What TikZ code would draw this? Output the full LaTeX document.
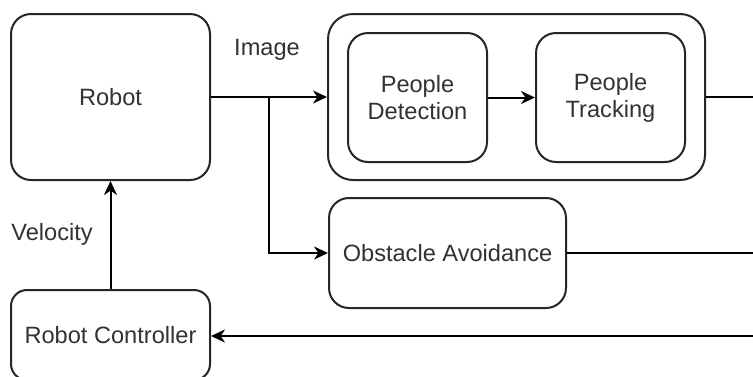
\documentclass[tikz,border=0pt]{standalone}
\usepackage{fontspec}
\setmainfont{Liberation Sans}
\usetikzlibrary{arrows.meta}
\definecolor{txt}{RGB}{50,50,50}
\tikzset{
  px/.style={x=0.5pt,y=-0.5pt},
  box/.style={draw=black!85, line width=1pt, rounded corners=#1, fill=white, inner sep=0pt, text=txt, align=center,
    font=\fontsize{11.8pt}{13.5pt}\selectfont},
  box/.default=10pt,
  conn/.style={draw=black, line width=1pt},
  arr/.style={conn, -{Stealth[length=7pt,width=6.5pt,inset=2.2pt]}},
  lbl/.style={text=txt, inner sep=0pt, font=\fontsize{11.8pt}{13.5pt}\selectfont},
}
\begin{document}
\begin{tikzpicture}[px]
\clip (0,0) rectangle (753,376);
\fill[white] (0,0) rectangle (753,376);
\node[box, minimum width=99.5pt, minimum height=83pt] (robot) at (110.5,97) {Robot};
\node[box=12.5pt, minimum width=188.5pt, minimum height=83pt] (group) at (516.5,97) {};
\node[box, minimum width=69.5pt, minimum height=64.5pt] (detect) at (417.5,97.5) {People\\Detection};
\node[box, minimum width=74.5pt, minimum height=64.5pt] (track) at (610.5,97.5) {People\\Tracking};
\node[box, minimum width=118.5pt, minimum height=55pt] (obst) at (447.5,253) {Obstacle Avoidance};
\node[box=8pt, minimum width=99.5pt, minimum height=45pt] (ctrl) at (110.5,335) {Robot Controller};
\node[lbl] (imglbl) at (267,50) {Image};
\node[lbl] (vellbl) at (52,234) {Velocity};
\coordinate (split) at (269,97);
\coordinate (e1) at (753,97);
\coordinate (e2) at (753,253);
\coordinate (e3) at (753,336);
\draw[arr] (robot.east) -- (group.west);
\draw[arr] (split) |- (obst.west);
\draw[arr] (detect.east) -- (track.east -| track.west);
\draw[conn] (group.east) -- (e1);
\draw[conn] (obst.east) -- (e2);
\draw[arr] (e3) -- (e3 -| ctrl.east);
\draw[arr] (ctrl.north) -- (robot.south);
\end{tikzpicture}
\end{document}
